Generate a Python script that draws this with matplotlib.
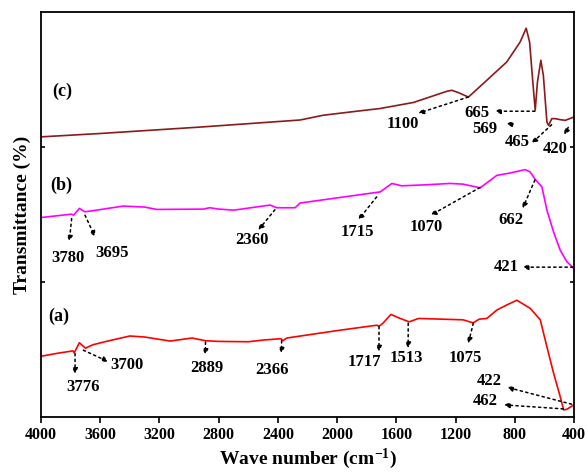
import matplotlib
matplotlib.use('Agg')
import matplotlib.pyplot as plt

plt.rcParams['font.family'] = 'Liberation Serif'
plt.rcParams['font.weight'] = 'bold'
plt.rcParams['mathtext.fontset'] = 'custom'
plt.rcParams['mathtext.rm'] = 'Liberation Serif:bold'
plt.rcParams['mathtext.default'] = 'rm'

# spectrum (a)
wn_a = [4000, 3900, 3784, 3776, 3741, 3700, 3650, 3550, 3400, 3300, 3128, 2980,
        2889, 2800, 2600, 2500, 2380, 2366, 2340, 2000, 1732, 1717, 1690, 1637,
        1580, 1513, 1450, 1300, 1150, 1081, 1040, 989, 921, 854, 786, 696, 628,
        583, 538, 493, 470, 448, 400]
tr_a = [9.0, 9.4, 9.8, 9.5, 11.0, 10.2, 10.7, 11.25, 12.0, 11.85, 11.25, 11.7,
        11.3, 11.2, 11.15, 11.4, 11.6, 11.3, 11.7, 12.8, 13.6, 13.45, 13.9, 15.2,
        14.65, 14.1, 14.6, 14.5, 14.4, 13.95, 14.5, 14.6, 15.85, 16.6, 17.3, 16.1, 14.4,
        10.4, 6.5, 3.0, 1.05, 1.15, 1.8]

# spectrum (b)
wn_b = [4000, 3793, 3780, 3741, 3703, 3624, 3444, 3300, 3218, 2905, 2860, 2800,
        2696, 2453, 2408, 2284, 2250, 1709, 1630, 1563, 1400, 1237, 1150, 1034,
        921, 831, 730, 696, 662, 617, 583, 538, 493, 448, 400]
tr_b = [29.55, 30.05, 29.9, 30.9, 30.4, 30.65, 31.25, 31.1, 30.75, 30.8, 31.0, 30.8,
        30.65, 31.4, 31.0, 31.0, 31.7, 33.35, 34.6, 34.25, 34.4, 34.6, 34.5, 33.95,
        35.8, 36.15, 36.65, 36.3, 35.2, 34.1, 30.65, 27.4, 24.7, 23.0, 22.0]

# spectrum (c)
wn_c = [4000, 3601, 2926, 2250, 2095, 1867, 1710, 1484, 1259, 1225, 1180, 1113,
        988, 854, 764, 723, 700, 678, 662, 647, 624, 607, 583, 572, 550, 527,
        493, 459, 400]
tr_c = [41.5, 42.0, 42.95, 44.0, 44.7, 45.3, 45.7, 46.6, 48.25, 48.4, 48.05, 47.4,
        49.9, 52.6, 55.55, 57.6, 55.55, 49.6, 45.45, 49.6, 52.85, 50.6, 43.7, 43.2,
        44.2, 44.2, 44.05, 43.95, 44.45]

# peak labels: text, text position, arrow tail, arrow head (data coords)
peaks_a = [('3776', (3714, 4.4), (3770, 9.4), (3770, 6.4)),
           ('3700', (3421, 7.7), (3714, 9.9), (3545, 8.2)),
           ('2889', (2881, 7.2), (2889, 11.1), (2889, 9.2)),
           ('2366', (2442, 7.0), (2375, 11.3), (2375, 9.4)),
           ('1717', (1816, 8.2), (1717, 13.4), (1717, 9.7)),
           ('1513', (1530, 8.7), (1520, 13.9), (1520, 10.2)),
           ('1075', (1136, 8.7), (1080, 13.9), (1114, 10.9)),
           ('422', (972, 5.4), (416, 1.9), (851, 4.4)),
           ('462', (1001, 2.3), (472, 1.2), (873, 1.8))]
peaks_b = [('3780', (3816, 23.5), (3793, 29.4), (3809, 26.0)),
           ('3695', (3522, 24.3), (3703, 29.9), (3635, 26.7)),
           ('2360', (2573, 26.2), (2420, 30.7), (2532, 27.7)),
           ('1715', (1864, 27.45), (1733, 32.6), (1857, 29.2)),
           ('1070', (1400, 28.2), (1035, 34.0), (1368, 29.9)),
           ('662', (826, 29.2), (664, 35.1), (747, 30.9)),
           ('421', (859, 22.2), (407, 22.2), (747, 22.2))]
peaks_c = [('1100', (1557, 43.4), (1114, 47.4), (1452, 45.0)),
           ('665', (1057, 45.1), (664, 45.3), (934, 45.3)),
           ('569', (1001, 42.6), (810, 43.4), (859, 43.4)),
           ('465', (783, 40.7), (551, 43.3), (686, 40.55)),
           ('420', (528, 39.7), (439, 42.9), (466, 41.8))]

fig = plt.figure(figsize=(5.85, 4.72), dpi=100)
ax = fig.add_axes([0.0701, 0.1165, 0.9111, 0.8581])

ax.plot(wn_a, tr_a, color='red', lw=1.2)
ax.plot(wn_b, tr_b, color='magenta', lw=1.2)
ax.plot(wn_c, tr_c, color='#8b1a1a', lw=1.2)

for peaks in (peaks_a, peaks_b, peaks_c):
  for lab, txy, tail, head in peaks:
    ax.text(txy[0], txy[1], lab, ha='center', va='center', fontsize=12, fontweight='bold')
    ax.annotate('', xy=head, xytext=tail,
                arrowprops=dict(arrowstyle='-|>', color='k', lw=1.1,
                                linestyle=(0, (1.5, 2.2)), mutation_scale=8,
                                shrinkA=0, shrinkB=0))

ax.text(3858, 48.3, '(c)', ha='center', va='center', fontsize=13, fontweight='bold')
ax.text(3862, 34.3, '(b)', ha='center', va='center', fontsize=13, fontweight='bold')
ax.text(3878, 14.9, '(a)', ha='center', va='center', fontsize=13, fontweight='bold')

ax.set_xlim(4000, 400)
ax.set_ylim(0, 60)
ax.set_xticks(range(4000, 399, -400))
ax.set_yticks([20, 40])
ax.set_yticklabels([])
ax.tick_params(axis='x', direction='out', length=4, width=1.2, labelsize=11.5, pad=3)
ax.tick_params(axis='y', direction='in', length=3, width=1.2, right=True)
for lbl in ax.get_xticklabels():
  lbl.set_fontweight('bold')
for s in ax.spines.values():
  s.set_linewidth(1.3)

ax.set_xlabel(r'Wave number (cm$^{-1}$)', fontsize=14, fontweight='bold', labelpad=3)
ax.set_ylabel('Transmittance (%)', fontsize=14, fontweight='bold', labelpad=4)

plt.savefig('out.png', dpi=100)
